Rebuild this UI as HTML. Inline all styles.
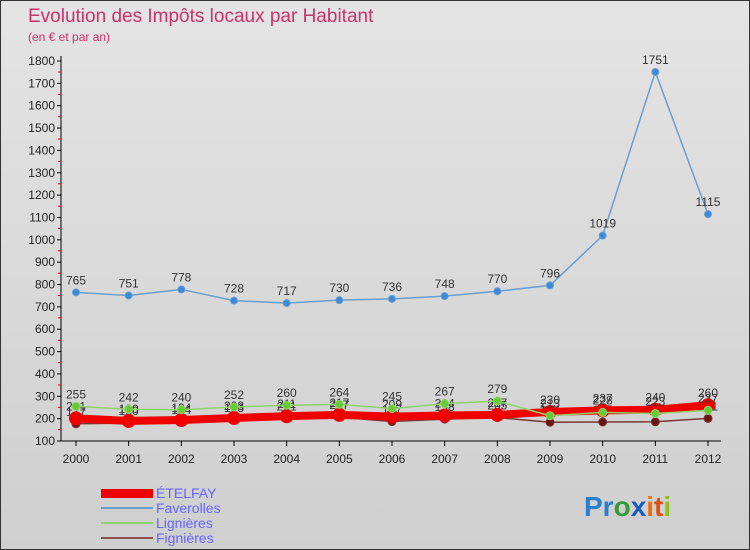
<!DOCTYPE html>
<html><head><meta charset="utf-8"><style>
body{margin:0}
#c{position:relative;width:750px;height:550px;background:linear-gradient(#e4e4e4,#cfcfcf);border:1px solid #333;box-sizing:border-box;font-family:"Liberation Sans",sans-serif;overflow:hidden}
</style></head><body>
<div id="c">
<svg id="s" width="750" height="550" style="position:absolute;left:0;top:0">
<text x="27" y="21" font-size="19" fill="#c8336a">Evolution des Impôts locaux par Habitant</text>
<text x="27" y="40" font-size="12" fill="#c8336a">(en € et par an)</text>
<g id="axes"></g><g id="series"></g>
<g>
<rect x="100" y="488" width="52" height="9" fill="#e00"/>
<text x="155" y="497" font-size="14" fill="#66f">ÉTELFAY</text>
<line x1="100" y1="507" x2="152" y2="507" stroke="#6a9ecf" stroke-width="2"/>
<text x="155" y="512" font-size="14" fill="#66f">Faverolles</text>
<line x1="100" y1="522" x2="152" y2="522" stroke="#8fd46a" stroke-width="2"/>
<text x="155" y="527" font-size="14" fill="#66f">Lignières</text>
<line x1="100" y1="537" x2="152" y2="537" stroke="#8b5050" stroke-width="2"/>
<text x="155" y="542" font-size="14" fill="#66f">Fignières</text>
</g>
<g font-size="28" font-weight="bold">
<text x="583" y="515"><tspan fill="#2a7fd0">Pr</tspan><tspan fill="#3a9a3a">o</tspan><tspan fill="#1a5fc0">x</tspan><tspan fill="#f07010">i</tspan><tspan fill="#e05010">t</tspan><tspan fill="#90c020">i</tspan></text>
</g>
</svg>
</div>
<script>
const years=[2000,2001,2002,2003,2004,2005,2006,2007,2008,2009,2010,2011,2012];
const yTicks=[100,200,300,400,500,600,700,800,900,1000,1100,1200,1300,1400,1500,1600,1700,1800];
const etelfay=[201,190,194,203,211,217,209,214,217,230,237,240,260];
const faverolles=[765,751,778,728,717,730,736,748,770,796,1019,1751,1115];
const lignieres=[255,242,240,252,260,264,245,267,279,213,228,223,237];
const fignieres=[177,180,184,193,201,207,187,198,205,184,185,186,201];
const NS="http://www.w3.org/2000/svg";
const xs=i=>75+i*(707-75)/(years.length-1);
const ys=v=>440-(v-100)*(440-60)/1700;
function mk(t,a,p){const e=document.createElementNS(NS,t);for(const k in a)e.setAttribute(k,a[k]);p.appendChild(e);return e;}
const ax=document.getElementById('axes');
const yl=mk('line',{x1:60,y1:55,x2:60,y2:440,stroke:'#000'},ax);


const xl=mk('line',{x1:60,y1:440,x2:720,y2:440,stroke:'#000'},ax);


yTicks.forEach((v,k)=>{
 const y=ys(v);
 mk('line',{x1:56,y1:y,x2:60,y2:y,stroke:'#000'},ax);
 if(k>0) mk('line',{x1:57,y1:y+11,x2:60,y2:y+11,stroke:'#e00'},ax);
 const t=mk('text',{x:54,y:y+4,'font-size':12,'text-anchor':'end',fill:'#222'},ax);
 t.textContent=v;
 
 
});
years.forEach((yr,i)=>{
 const x=xs(i);
 mk('line',{x1:x,y1:440,x2:x,y2:445,stroke:'#000'},ax);
 const t=mk('text',{x:x,y:462,'font-size':12,'text-anchor':'middle',fill:'#222'},ax);
 t.textContent=yr;
 
 
});
const sg=document.getElementById('series');
function series(name,data,color,w,r,dot,labels){
 const g=mk('g',{},sg);
 
 
 const p=mk('polyline',{points:data.map((v,i)=>xs(i)+','+ys(v)).join(' '),fill:'none',stroke:color,'stroke-width':w,'stroke-linejoin':'round'},g);
 
 
 data.forEach((v,i)=>{
  const c=mk('circle',{cx:xs(i),cy:ys(v),r:r,fill:dot,stroke:color,'stroke-width':1},g);
  
  
  if(labels){const t=mk('text',{x:xs(i),y:ys(v)-8,'font-size':12,'text-anchor':'middle',fill:'#333'},g);
  t.textContent=v;
  
  }
 });
}
series('fignieres',fignieres,'#7a3535',1.5,4,'#6a1515',true);
series('etelfay',etelfay,'#e00',8,6.5,'#e00',true);
series('lignieres',lignieres,'#8fd46a',1.5,4,'#66cc33',true);
series('faverolles',faverolles,'#6a9ecf',1.5,3.5,'#3a8ad8',true);
</script>
</body></html>
